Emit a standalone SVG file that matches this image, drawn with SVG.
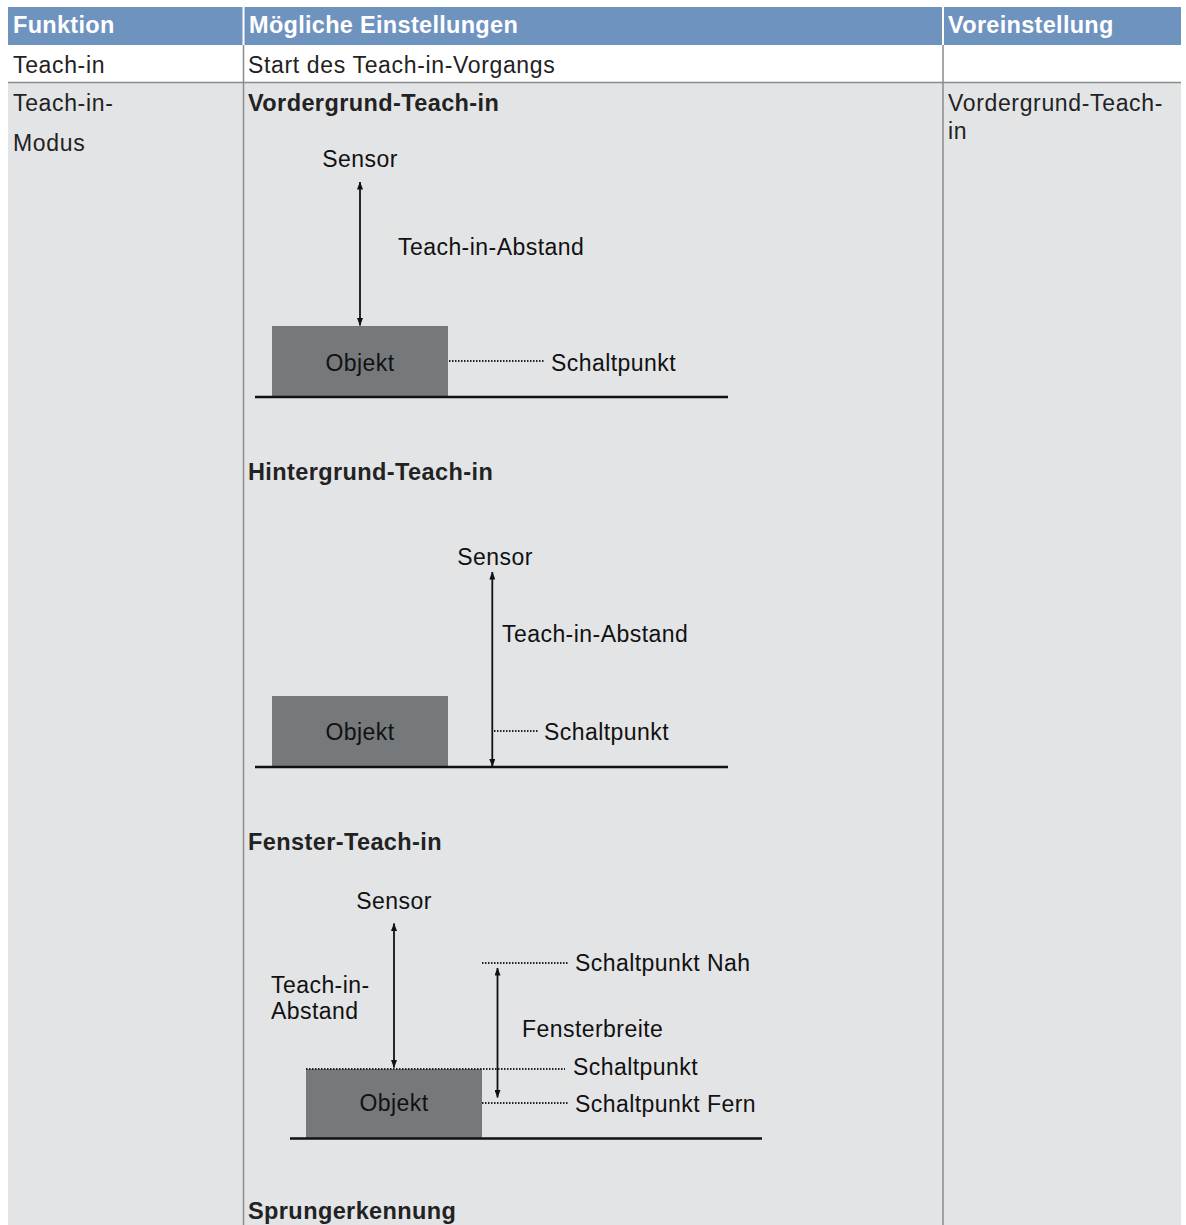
<svg xmlns="http://www.w3.org/2000/svg" width="1186" height="1225" viewBox="0 0 1186 1225">
<style>
.hd{font-family:"Liberation Sans",Arial,sans-serif;font-size:23.5px;font-weight:bold;fill:#fff;letter-spacing:0.3px}
.bt{font-family:"Liberation Sans",Arial,sans-serif;font-size:23px;fill:#222;letter-spacing:0.65px}
.bb{font-family:"Liberation Sans",Arial,sans-serif;font-size:23.5px;font-weight:bold;fill:#222;letter-spacing:0.4px}
.dt{font-family:"Liberation Sans",Arial,sans-serif;font-size:23px;fill:#111;letter-spacing:0.45px}
.obj{fill:#76797c}
.gnd{stroke:#111;stroke-width:2.5}
.arr{stroke:#111;stroke-width:1.8;marker-start:url(#ah);marker-end:url(#ah)}
.dot{stroke:#222;stroke-width:2;stroke-dasharray:1.5 1.5}
.grid{stroke:#8a8b8d;stroke-width:1.5}
</style>
<defs>
<marker id="ah" viewBox="0 0 8 6" refX="7.5" refY="3" markerWidth="8" markerHeight="6" markerUnits="userSpaceOnUse" orient="auto-start-reverse">
<path d="M0,0 L8,3 L0,6 z" fill="#111"/>
</marker>
</defs>
<rect width="1186" height="1225" fill="#fff"/>
<g id="table">
<rect x="8" y="7" width="1173" height="38" fill="#6f93bf"/>
<rect x="8" y="83" width="1173" height="1142" fill="#e3e4e6"/>
<line x1="243.5" y1="7" x2="243.5" y2="45" stroke="#fff" stroke-width="2"/>
<line x1="943" y1="7" x2="943" y2="45" stroke="#fff" stroke-width="2"/>
<line class="grid" x1="243.5" y1="45" x2="243.5" y2="1225"/>
<line class="grid" x1="943" y1="45" x2="943" y2="1225"/>
<line class="grid" x1="8" y1="82.5" x2="1181" y2="82.5"/>
<text class="hd" x="13" y="33">Funktion</text>
<text class="hd" x="249" y="33">Mögliche Einstellungen</text>
<text class="hd" x="948" y="33">Voreinstellung</text>
<text class="bt" x="13" y="73">Teach-in</text>
<text class="bt" x="248" y="73">Start des Teach-in-Vorgangs</text>
<text class="bt" x="13" y="111">Teach-in-</text>
<text class="bt" x="13" y="151">Modus</text>
<text class="bt" x="948" y="111">Vordergrund-Teach-</text>
<text class="bt" x="948" y="139">in</text>
<text class="bb" x="248" y="111">Vordergrund-Teach-in</text>
<text class="bb" x="248" y="480">Hintergrund-Teach-in</text>
<text class="bb" x="248" y="850">Fenster-Teach-in</text>
<text class="bb" x="248" y="1219">Sprungerkennung</text>
</g>
<g id="diagram-vordergrund">
<rect class="obj" x="272" y="326" width="176" height="70"/>
<line class="gnd" x1="255" y1="397" x2="728" y2="397"/>
<text class="dt" x="360" y="167" text-anchor="middle">Sensor</text>
<text class="dt" x="398" y="255">Teach-in-Abstand</text>
<text class="dt" x="360" y="371" text-anchor="middle">Objekt</text>
<text class="dt" x="551" y="371">Schaltpunkt</text>
</g>
<g id="diagram-hintergrund">
<rect class="obj" x="272" y="696" width="176" height="70"/>
<line class="gnd" x1="255" y1="767" x2="728" y2="767"/>
<text class="dt" x="495" y="565" text-anchor="middle">Sensor</text>
<text class="dt" x="502" y="642">Teach-in-Abstand</text>
<text class="dt" x="360" y="740" text-anchor="middle">Objekt</text>
<text class="dt" x="544" y="740">Schaltpunkt</text>
</g>
<g id="diagram-fenster">
<rect class="obj" x="306" y="1069" width="176" height="69"/>
<line class="gnd" x1="290" y1="1138.5" x2="762" y2="1138.5"/>
<text class="dt" x="394" y="909" text-anchor="middle">Sensor</text>
<text class="dt" x="271" y="993">Teach-in-</text>
<text class="dt" x="271" y="1019">Abstand</text>
<text class="dt" x="522" y="1037">Fensterbreite</text>
<text class="dt" x="394" y="1111" text-anchor="middle">Objekt</text>
<text class="dt" x="575" y="971">Schaltpunkt Nah</text>
<text class="dt" x="573" y="1075">Schaltpunkt</text>
<text class="dt" x="575" y="1112">Schaltpunkt Fern</text>
</g>
<g id="connectors">
<line class="arr" x1="360" y1="182" x2="360" y2="325.5"/>
<line class="dot" x1="449" y1="361" x2="544" y2="361"/>
<line class="arr" x1="492.3" y1="572" x2="492.3" y2="766.5"/>
<line class="dot" x1="494" y1="731" x2="539" y2="731"/>
<line class="arr" x1="394" y1="923.5" x2="394" y2="1067.5"/>
<line class="dot" x1="306" y1="1069" x2="565" y2="1069"/>
<line class="dot" x1="482" y1="963" x2="569" y2="963"/>
<line class="dot" x1="482" y1="1103" x2="569" y2="1103"/>
<line class="arr" x1="497.5" y1="968" x2="497.5" y2="1097.5"/>
</g>
</svg>
